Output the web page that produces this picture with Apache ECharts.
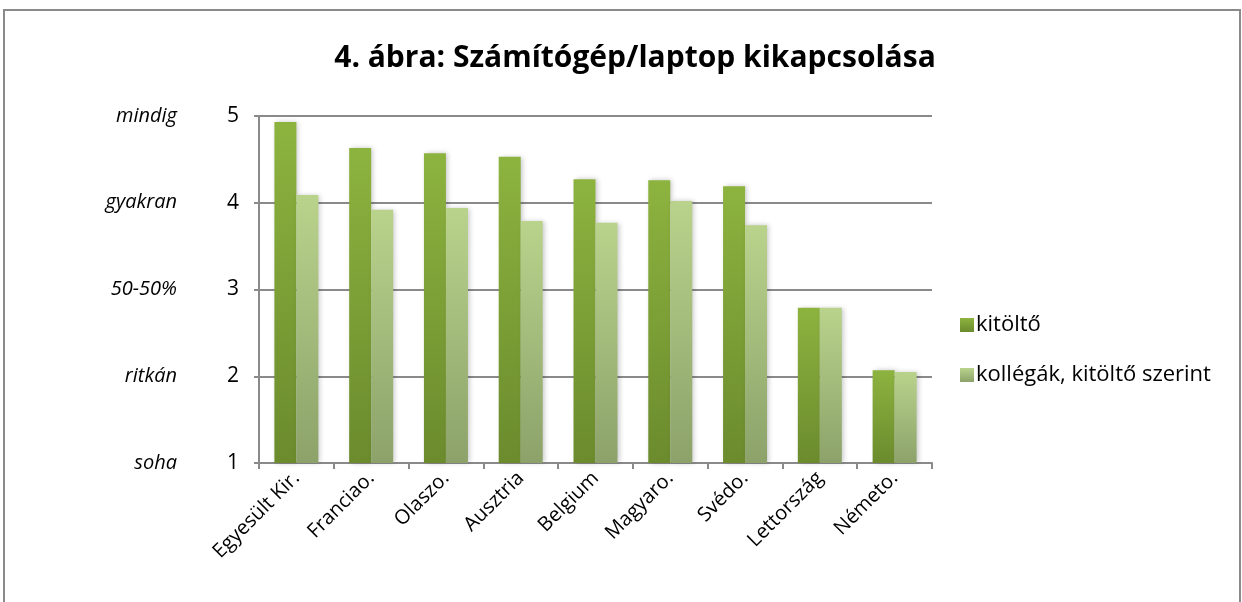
<!DOCTYPE html>
<html>
<head>
<meta charset="utf-8">
<script src="https://cdn.jsdelivr.net/npm/echarts@6/dist/echarts.min.js"></script>
<style>
  html, body { margin: 0; padding: 0; background: #fff; }
  #chart { width: 1242px; height: 602px; }
</style>
</head>
<body>
<div id="chart"></div>
<script>
// kategóriák (országok)
const countries = ['Egyesült Kir.', 'Franciao.', 'Olaszo.', 'Ausztria', 'Belgium', 'Magyaro.', 'Svédo.', 'Lettország', 'Németo.'];
// kitöltő válaszai
const respondent = [4.93, 4.63, 4.57, 4.53, 4.27, 4.26, 4.19, 2.79, 2.07];
// kollégák, kitöltő szerint
const colleagues = [4.09, 3.92, 3.94, 3.79, 3.77, 4.02, 3.74, 2.79, 2.05];
// y tengely szöveges címkék
const scaleNames = { 1: 'soha', 2: 'ritkán', 3: '50-50%', 4: 'gyakran', 5: 'mindig' };

const font = '"Open Sans", "Noto Sans", sans-serif';

const chart = echarts.init(document.getElementById('chart'));

function grad(top, bottom) {
  return new echarts.graphic.LinearGradient(0, 0, 0, 1, [
    { offset: 0, color: top },
    { offset: 1, color: bottom }
  ]);
}

const barShadow = {
  shadowBlur: 5,
  shadowColor: 'rgba(0,0,0,0.22)',
  shadowOffsetX: 2,
  shadowOffsetY: 0
};

chart.setOption({
  animation: false,
  textStyle: { fontFamily: font },
  title: {
    text: '4. ábra: Számítógép/laptop kikapcsolása',
    left: 630,
    textAlign: 'center',
    top: 38,
    textStyle: { fontSize: 30, fontWeight: 'bold', color: '#000', fontFamily: font }
  },
  graphic: [{
    type: 'rect',
    shape: { x: 4, y: 10, width: 1236, height: 600 },
    style: { fill: 'none', stroke: '#8a8a8a', lineWidth: 2 },
    silent: true
  }],
  legend: {
    orient: 'vertical',
    left: 955,
    top: 309,
    itemGap: 28,
    itemWidth: 14,
    itemHeight: 14,
    icon: 'rect',
    textStyle: { fontSize: 22, color: '#000', fontFamily: font, padding: [0, 0, 0, -3] },
    data: ['kitöltő', 'kollégák, kitöltő szerint']
  },
  grid: { left: 259, right: 310, top: 116, bottom: 139 },
  xAxis: {
    type: 'category',
    data: countries,
    axisLine: { lineStyle: { color: '#8a8a8a', width: 2 } },
    axisTick: { show: true, alignWithLabel: false, length: 6, lineStyle: { color: '#8a8a8a', width: 2 } },
    axisLabel: {
      rotate: 45,
      fontSize: 20,
      color: '#000',
      margin: 12,
      interval: 0,
      fontFamily: font
    }
  },
  yAxis: [{
    type: 'value',
    min: 1,
    max: 5,
    interval: 1,
    axisLine: { show: true, lineStyle: { color: '#8a8a8a', width: 2 } },
    axisTick: { show: true, length: 5, lineStyle: { color: '#8a8a8a', width: 2 } },
    splitLine: { lineStyle: { color: '#8a8a8a', width: 2 } },
    axisLabel: { fontSize: 21, color: '#000', margin: 20, fontFamily: font }
  }, {
    type: 'value',
    position: 'left',
    min: 1,
    max: 5,
    interval: 1,
    offset: 74,
    axisLine: { show: false },
    axisTick: { show: false },
    splitLine: { show: false },
    axisLabel: {
      fontSize: 20,
      fontStyle: 'italic',
      color: '#000',
      fontFamily: font,
      formatter: function (v) { return scaleNames[v] || ''; }
    }
  }],
  series: [{
    name: 'kitöltő',
    type: 'bar',
    data: respondent,
    barWidth: 22,
    barGap: '0%',
    itemStyle: Object.assign({ color: grad('#8db33f', '#6b8b2d') }, barShadow)
  }, {
    name: 'kollégák, kitöltő szerint',
    type: 'bar',
    data: colleagues,
    barWidth: 22,
    itemStyle: Object.assign({ color: grad('#b9d38c', '#8ca26a') }, barShadow)
  }]
});
</script>
</body>
</html>
